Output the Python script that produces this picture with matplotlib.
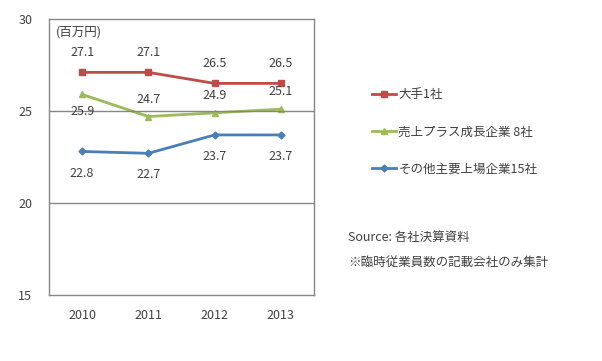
import matplotlib.pyplot as plt
from matplotlib.lines import Line2D

plt.rcParams['font.family'] = ['Noto Sans CJK JP', 'DejaVu Sans']

years = ["2010", "2011", "2012", "2013"]
big1 = [27.1, 27.1, 26.5, 26.5]
growth8 = [25.9, 24.7, 24.9, 25.1]
other15 = [22.8, 22.7, 23.7, 23.7]
names = ["大手1社", "売上プラス成長企業 8社", "その他主要上場企業15社"]
yticks = [15, 20, 25, 30]

red = "#BE4B48"
green = "#9BBB59"
blue = "#4A7EBB"
txt = "#404040"

fig = plt.figure(figsize=(6.02, 3.61), dpi=100)
ax = fig.add_axes([49 / 602, 1 - 295 / 361, 265 / 602, 276 / 361])

x = range(len(years))
ax.plot(x, big1, color=red, lw=2, marker="s", ms=5, label=names[0])
ax.plot(x, growth8, color=green, lw=2, marker="^", ms=5, label=names[1])
ax.plot(x, other15, color=blue, lw=2, marker="D", ms=3.5, label=names[2])

# data labels
for i, v in enumerate(big1):
    ax.annotate(f"{v:.1f}", (i, v), xytext=(0, 14), textcoords="offset points",
                ha="center", va="center", fontsize=9, color=txt)
for i, v in enumerate(growth8):
    off = -12 if i == 0 else 12.5
    ax.annotate(f"{v:.1f}", (i, v), xytext=(0, off), textcoords="offset points",
                ha="center", va="center", fontsize=9, color=txt)
for i, v in enumerate(other15):
    ax.annotate(f"{v:.1f}", (i, v), xytext=(0, -15.5), textcoords="offset points",
                ha="center", va="center", fontsize=9, color=txt)

ax.set_xlim(-0.5, 3.5)
ax.set_ylim(15, 30)
ax.set_yticks(yticks)
ax.set_xticks(list(x))
ax.set_xticklabels(years)
ax.tick_params(length=0, labelsize=9, colors=txt)
ax.tick_params(axis="y", pad=17)
ax.tick_params(axis="x", pad=10)
for lab in ax.get_yticklabels():
    lab.set_horizontalalignment("center")
for y in [20, 25]:
    ax.axhline(y, color="#868686", lw=1)
for s in ax.spines.values():
    s.set_color("#868686")
    s.set_linewidth(1)

ax.text(0.025, 0.975, "(百万円)", transform=ax.transAxes, fontsize=9,
        color=txt, va="top", ha="left")

handles = [
    Line2D([], [], color=red, lw=2, marker="s", ms=5),
    Line2D([], [], color=green, lw=2, marker="^", ms=5),
    Line2D([], [], color=blue, lw=2, marker="D", ms=3.5),
]
fig.legend(handles, names, loc="upper left", bbox_to_anchor=(372 / 602, 1 - 88 / 361),
           frameon=False, fontsize=9, labelcolor=txt, handlelength=1.9,
           handletextpad=0.2, labelspacing=1.95, borderpad=0, borderaxespad=0)

fig.text(348 / 602, 1 - 237 / 361, "Source: 各社決算資料", fontsize=9,
         color=txt, va="center", ha="left")
fig.text(348 / 602, 1 - 262 / 361, "※臨時従業員数の記載会社のみ集計", fontsize=9,
         color=txt, va="center", ha="left")

fig.savefig("out.png", dpi=100)
